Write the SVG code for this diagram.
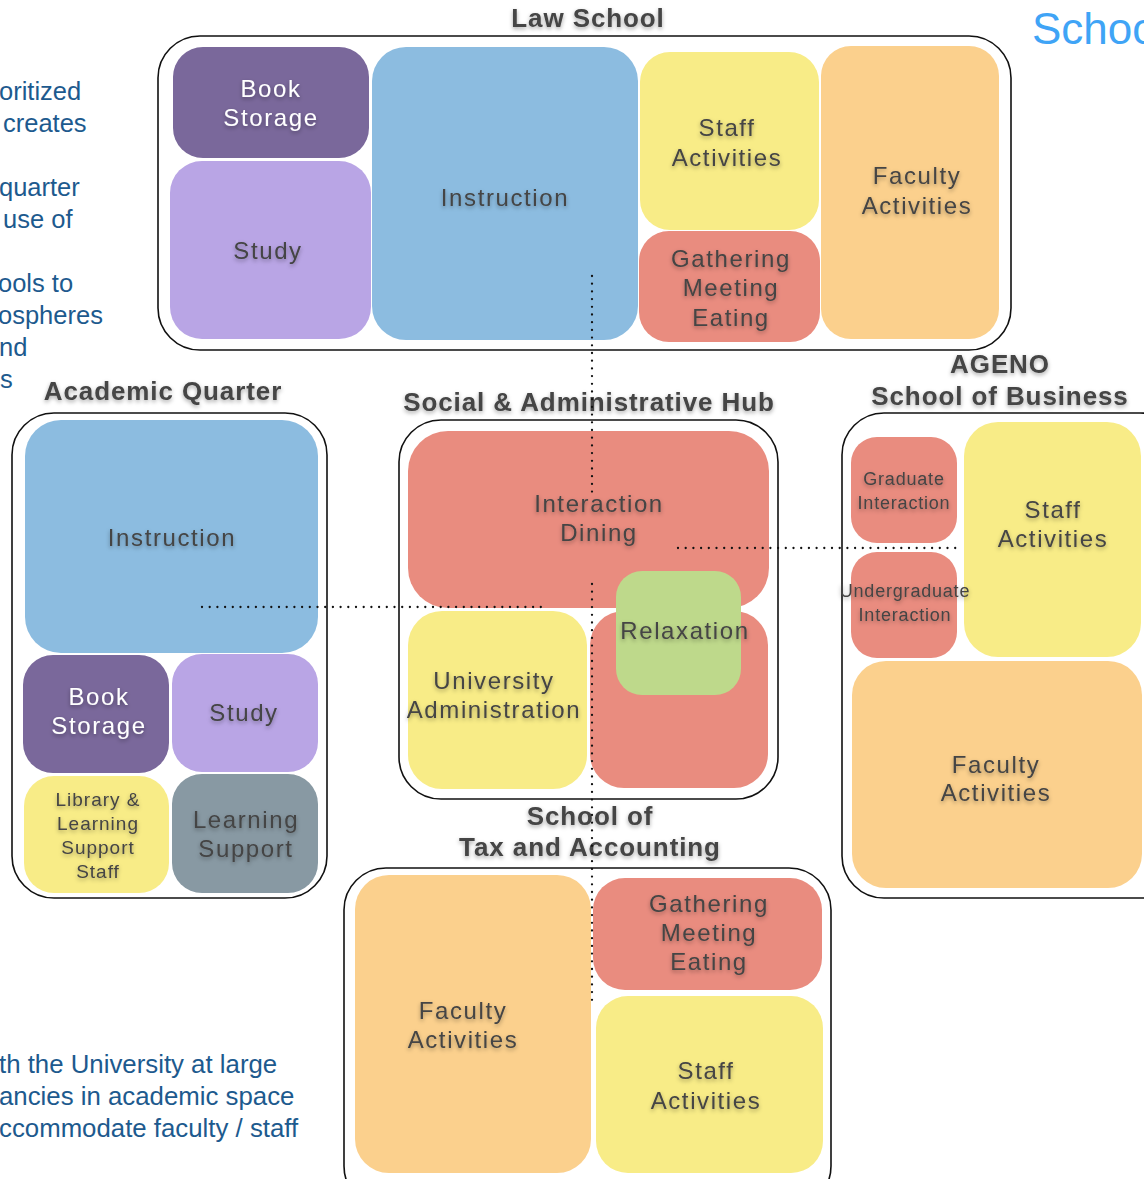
<svg xmlns="http://www.w3.org/2000/svg" width="1144" height="1179" viewBox="0 0 1144 1179">
<defs>
<filter id="sh" x="-20%" y="-40%" width="140%" height="180%">
<feDropShadow dx="0" dy="2" stdDeviation="2.2" flood-color="#000" flood-opacity="0.35"/>
</filter>
<style>
.frame{fill:#fff;stroke:#111;stroke-width:1.6}
.pur{fill:#7A689B}.lav{fill:#B9A5E5}.blu{fill:#8CBCE0}.yel{fill:#F8EC87}.red{fill:#E98C7F}.ora{fill:#FBD08D}.grn{fill:#BED98B}.gry{fill:#8899A3}
.t{font-family:"Liberation Sans","DejaVu Sans",sans-serif;font-size:24px;letter-spacing:1.6px;fill:#444;text-anchor:middle;filter:url(#sh)}
.w{fill:#fff}
.s{font-size:19px;letter-spacing:1px}
.xs{font-size:18px;letter-spacing:0.8px}
.ttl{font-family:"Liberation Sans","DejaVu Sans",sans-serif;font-size:26px;font-weight:bold;letter-spacing:0.9px;fill:#444;text-anchor:middle;filter:url(#sh)}
.side{font-family:"Liberation Sans","DejaVu Sans",sans-serif;font-size:25.5px;fill:#1D5A8E}
.sideb{font-family:"Liberation Sans","DejaVu Sans",sans-serif;font-size:25.8px;fill:#1D5A8E}
.dot{fill:none;stroke:#111;stroke-width:2.3;stroke-linecap:round;stroke-dasharray:0 7.7}
</style>
</defs>
<rect width="1144" height="1179" fill="#fff"/>

<g id="side-text">
<text class="side" x="-1" y="100">oritized</text>
<text class="side" x="3" y="132">creates</text>
<text class="side" x="-1" y="196">quarter</text>
<text class="side" x="3" y="228">use of</text>
<text class="side" x="-2" y="292">ools to</text>
<text class="side" x="-2" y="324">ospheres</text>
<text class="side" x="-1" y="356">nd</text>
<text class="side" x="0" y="388">s</text>
<text class="sideb" x="-1" y="1073">th the University at large</text>
<text class="sideb" x="-1" y="1105">ancies in academic space</text>
<text class="sideb" x="-1" y="1137">ccommodate faculty / staff</text>
<text x="1032" y="44" style="font-family:'Liberation Sans',sans-serif;font-size:44px;fill:#3FA4F6">Schoo</text>
</g>

<g id="law-school">
<text class="ttl" x="588" y="27">Law School</text>
<rect class="frame" x="158" y="36" width="853" height="314" rx="42"/>
<rect class="pur" x="173" y="47" width="196" height="111" rx="30"/>
<rect class="lav" x="170" y="161" width="201" height="178" rx="32"/>
<rect class="blu" x="372" y="47" width="266" height="293" rx="34"/>
<rect class="yel" x="640" y="52" width="179" height="178" rx="30"/>
<rect class="red" x="639" y="231" width="181" height="111" rx="30"/>
<rect class="ora" x="821" y="46" width="178" height="293" rx="30"/>
<text class="t w" x="271" y="97">Book</text>
<text class="t w" x="271" y="126">Storage</text>
<text class="t" x="268" y="259">Study</text>
<text class="t" x="505" y="206">Instruction</text>
<text class="t" x="727" y="136">Staff</text>
<text class="t" x="727" y="166">Activities</text>
<text class="t" x="731" y="267">Gathering</text>
<text class="t" x="731" y="296">Meeting</text>
<text class="t" x="731" y="326">Eating</text>
<text class="t" x="917" y="184">Faculty</text>
<text class="t" x="917" y="214">Activities</text>
</g>

<g id="academic-quarter">
<text class="ttl" x="163" y="400">Academic Quarter</text>
<rect class="frame" x="12" y="413" width="315" height="485" rx="42"/>
<rect class="blu" x="25" y="420" width="293" height="233" rx="36"/>
<rect class="pur" x="23" y="655" width="146" height="118" rx="30"/>
<rect class="lav" x="172" y="654" width="146" height="118" rx="30"/>
<rect class="yel" x="24" y="776" width="145" height="117" rx="30"/>
<rect class="gry" x="172" y="774" width="146" height="119" rx="30"/>
<text class="t" x="172" y="546">Instruction</text>
<text class="t w" x="99" y="705">Book</text>
<text class="t w" x="99" y="734">Storage</text>
<text class="t" x="244" y="721">Study</text>
<text class="t s" x="98" y="806">Library &amp;</text>
<text class="t s" x="98" y="830">Learning</text>
<text class="t s" x="98" y="854">Support</text>
<text class="t s" x="98" y="878">Staff</text>
<text class="t" x="246" y="828">Learning</text>
<text class="t" x="246" y="857">Support</text>
</g>

<g id="social-hub">
<text class="ttl" x="589" y="411">Social &amp; Administrative Hub</text>
<rect class="frame" x="399" y="420" width="379" height="379" rx="42"/>
<rect class="red" x="408" y="431" width="361" height="177" rx="40"/>
<rect class="yel" x="408" y="611" width="179" height="178" rx="34"/>
<rect class="red" x="590" y="611" width="178" height="177" rx="34"/>
<rect class="grn" x="616" y="571" width="125" height="124" rx="26"/>
<text class="t" x="599" y="512">Interaction</text>
<text class="t" x="599" y="541">Dining</text>
<text class="t" x="685" y="639">Relaxation</text>
<text class="t" x="494" y="689">University</text>
<text class="t" x="494" y="718">Administration</text>
</g>

<g id="ageno">
<text class="ttl" x="1000" y="373">AGENO</text>
<text class="ttl" x="1000" y="405">School of Business</text>
<rect class="frame" x="842" y="413" width="340" height="485" rx="42"/>
<rect class="red" x="851" y="437" width="106" height="106" rx="26"/>
<rect class="red" x="851" y="552" width="106" height="106" rx="26"/>
<rect class="yel" x="964" y="422" width="177" height="235" rx="34"/>
<rect class="ora" x="852" y="661" width="290" height="227" rx="34"/>
<text class="t xs" x="904" y="485">Graduate</text>
<text class="t xs" x="904" y="509">Interaction</text>
<text class="t xs" x="905" y="597">Undergraduate</text>
<text class="t xs" x="905" y="621">Interaction</text>
<text class="t" x="1053" y="518">Staff</text>
<text class="t" x="1053" y="547">Activities</text>
<text class="t" x="996" y="773">Faculty</text>
<text class="t" x="996" y="801">Activities</text>
</g>

<g id="tax-school">
<text class="ttl" x="590" y="825">School of</text>
<text class="ttl" x="590" y="856">Tax and Accounting</text>
<rect class="frame" x="344" y="868" width="487" height="340" rx="42"/>
<rect class="ora" x="355" y="875" width="236" height="298" rx="34"/>
<rect class="red" x="593" y="878" width="229" height="112" rx="32"/>
<rect class="yel" x="596" y="996" width="227" height="177" rx="32"/>
<text class="t" x="463" y="1019">Faculty</text>
<text class="t" x="463" y="1048">Activities</text>
<text class="t" x="709" y="912">Gathering</text>
<text class="t" x="709" y="941">Meeting</text>
<text class="t" x="709" y="970">Eating</text>
<text class="t" x="706" y="1079">Staff</text>
<text class="t" x="706" y="1109">Activities</text>
</g>

<g id="connectors">
<line class="dot" x1="592" y1="276" x2="592" y2="492"/>
<line class="dot" x1="592" y1="584" x2="592" y2="1000"/>
<line class="dot" x1="202" y1="607" x2="541" y2="607"/>
<line class="dot" x1="678" y1="548" x2="960" y2="548"/>
</g>
</svg>
